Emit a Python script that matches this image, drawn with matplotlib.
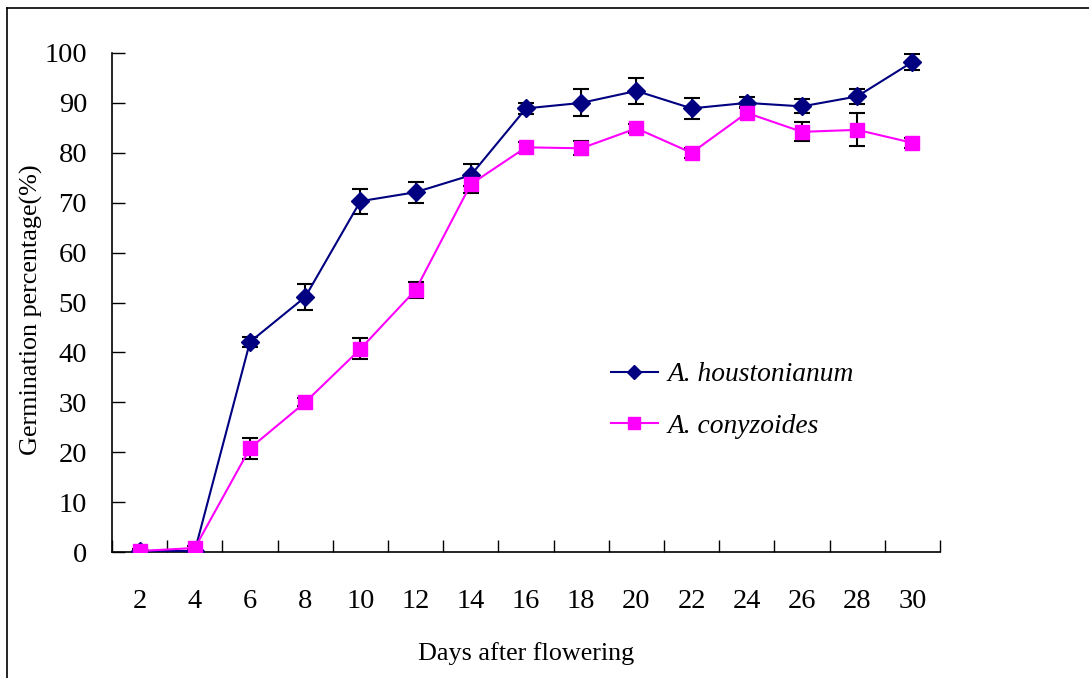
import matplotlib.pyplot as plt
from matplotlib.lines import Line2D

# Days after flowering
days = [2, 4, 6, 8, 10, 12, 14, 16, 18, 20, 22, 24, 26, 28, 30]

# Germination percentage (%) and standard errors
houstonianum = [0.2, 0.2, 42.1, 51.1, 70.3, 72.1, 75.5, 88.9, 90.0, 92.4, 88.9, 90.0, 89.3, 91.3, 98.2]
houstonianum_err = [0.4, 0.5, 1.0, 2.7, 2.5, 2.1, 2.2, 1.1, 2.7, 2.6, 2.1, 1.1, 1.4, 1.5, 1.6]
conyzoides = [0.2, 0.8, 20.8, 30.0, 40.7, 52.5, 73.7, 81.1, 80.9, 84.9, 80.0, 88.0, 84.2, 84.6, 82.0]
conyzoides_err = [0.3, 0.5, 2.1, 0.8, 2.1, 1.6, 1.8, 1.1, 1.4, 0.9, 1.0, 1.1, 1.9, 3.3, 1.0]

plt.rcParams['font.family'] = ['Liberation Serif', 'DejaVu Serif']

fig = plt.figure(figsize=(10.89, 6.78), dpi=100)
ax = fig.add_axes([112 / 1089, 1 - 552 / 678, (940 - 112) / 1089, (552 - 53) / 678])

x = list(range(len(days)))

ax.errorbar(x, houstonianum, yerr=houstonianum_err, color='#000080', lw=1.5,
            marker='D', markersize=9, ecolor='black', elinewidth=1.5,
            capsize=6, capthick=1.5, label='A. houstonianum', zorder=3)
ax.errorbar(x, conyzoides, yerr=conyzoides_err, color='#FF00FF', lw=1.5,
            marker='s', markersize=10, ecolor='black', elinewidth=1.5,
            capsize=6, capthick=1.5, label='A. conyzoides', zorder=3)

ax.set_xlim(-0.5, len(days) - 0.5)
ax.set_ylim(0, 100)
ax.set_xticks(x)
ax.set_xticklabels([str(d) for d in days])
ax.set_xticks([i - 0.5 for i in range(len(days) + 1)], minor=True)
ax.tick_params(axis='x', which='major', length=0, pad=27, labelsize=20.5)
ax.tick_params(axis='x', which='minor', direction='in', length=9, width=1)
ax.set_yticks(range(0, 101, 10))
ax.tick_params(axis='y', direction='in', length=9, width=1, pad=18, labelsize=20.5)

for s in ['top', 'right']:
    ax.spines[s].set_visible(False)
for s in ['left', 'bottom']:
    ax.spines[s].set_linewidth(1.2)

ax.set_xlabel('Days after flowering', fontsize=18.8)
ax.set_ylabel('Germination percentage(%)', fontsize=18.8)
ax.xaxis.set_label_coords(0.5, -0.181)
ax.yaxis.set_label_coords(-0.083, 0.485)

handles = [Line2D([], [], color='#000080', lw=1.5, marker='D', markersize=7),
           Line2D([], [], color='#FF00FF', lw=1.5, marker='s', markersize=8)]
ax.legend(handles, ['A. houstonianum', 'A. conyzoides'], frameon=False,
          prop={'style': 'italic', 'size': 19.8}, handlelength=1.7,
          handletextpad=0.35, labelspacing=0.95, loc='upper left',
          bbox_to_anchor=(0.5725, 0.43))

# outer frame (top and left edges visible)
fig.add_artist(Line2D([7 / 1089, 7 / 1089], [0, 1 - 8 / 678], color='black', lw=1.2,
                      transform=fig.transFigure))
fig.add_artist(Line2D([7 / 1089, 1], [1 - 8 / 678, 1 - 8 / 678], color='black', lw=1.2,
                      transform=fig.transFigure))

fig.savefig('out.png', dpi=100)
